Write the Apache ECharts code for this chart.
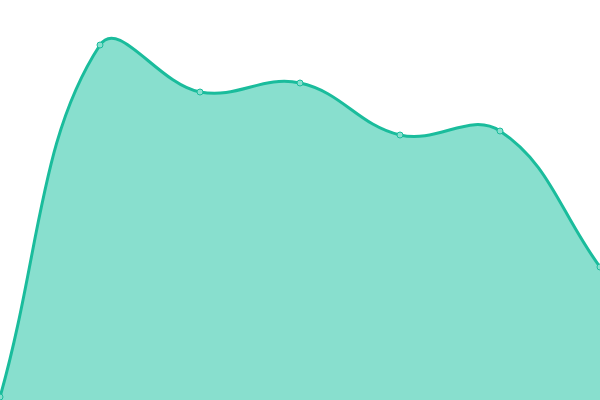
<!DOCTYPE html>
<html>
<head>
<meta charset="utf-8">
<script src="https://cdn.jsdelivr.net/npm/echarts@6/dist/echarts.min.js"></script>
<style>
  html, body { margin: 0; padding: 0; }
  #main { width: 600px; height: 400px; }
</style>
</head>
<body>
<div id="main"></div>
<script>
var categories = ['1', '2', '3', '4', '5', '6', '7'];
var values = [3, 355, 308, 317, 265, 269, 133];

var lineColor = '#1abc9c';
var fillColor = '#88dfce';
var tension = 0.4;

// spline through the points, control points scaled by neighbour distances
function buildPath(pts, bottomY) {
  var cps = [];
  for (var i = 0; i < pts.length; i++) {
    var prev = pts[i - 1] || pts[i];
    var cur = pts[i];
    var next = pts[i + 1] || pts[i];
    var d01 = Math.hypot(cur[0] - prev[0], cur[1] - prev[1]);
    var d12 = Math.hypot(next[0] - cur[0], next[1] - cur[1]);
    var s01 = d01 / (d01 + d12), s12 = d12 / (d01 + d12);
    if (isNaN(s01)) s01 = 0;
    if (isNaN(s12)) s12 = 0;
    var fa = tension * s01, fb = tension * s12;
    cps.push({
      p: [cur[0] - fa * (next[0] - prev[0]), cur[1] - fa * (next[1] - prev[1])],
      n: [cur[0] + fb * (next[0] - prev[0]), cur[1] + fb * (next[1] - prev[1])]
    });
  }
  var d = 'M' + pts[0][0] + ' ' + pts[0][1];
  for (var j = 1; j < pts.length; j++) {
    var a = cps[j - 1].n, b = cps[j].p;
    d += ' C' + a[0] + ' ' + a[1] + ' ' + b[0] + ' ' + b[1] + ' ' + pts[j][0] + ' ' + pts[j][1];
  }
  return d;
}

var myChart = echarts.init(document.getElementById('main'));
var option = {
  animation: false,
  grid: { left: 0, right: 0, top: 0, bottom: 0 },
  xAxis: {
    type: 'category',
    boundaryGap: false,
    data: categories,
    show: false
  },
  yAxis: {
    type: 'value',
    min: 0,
    max: 400,
    show: false
  },
  series: [{
    type: 'custom',
    z: 1,
    data: values.map(function (v, i) { return [i, v]; }),
    renderItem: function (params, api) {
      if (params.dataIndex !== 0) return null;
      var pts = values.map(function (v, i) { return api.coord([i, v]); });
      var bottom = api.coord([0, 0])[1];
      var linePath = buildPath(pts, bottom);
      var areaPath = linePath + ' L' + pts[pts.length - 1][0] + ' ' + bottom +
        ' L' + pts[0][0] + ' ' + bottom + ' Z';
      return {
        type: 'group',
        children: [{
          type: 'path',
          shape: { pathData: areaPath },
          style: { fill: fillColor, stroke: null }
        }, {
          type: 'path',
          shape: { pathData: linePath },
          style: { fill: null, stroke: lineColor, lineWidth: 3 }
        }]
      };
    }
  }, {
    type: 'line',
    z: 3,
    data: values,
    symbol: 'circle',
    symbolSize: 6,
    itemStyle: { color: fillColor, borderColor: lineColor, borderWidth: 1 },
    lineStyle: { width: 0, opacity: 0 }
  }]
};
myChart.setOption(option);
</script>
</body>
</html>
